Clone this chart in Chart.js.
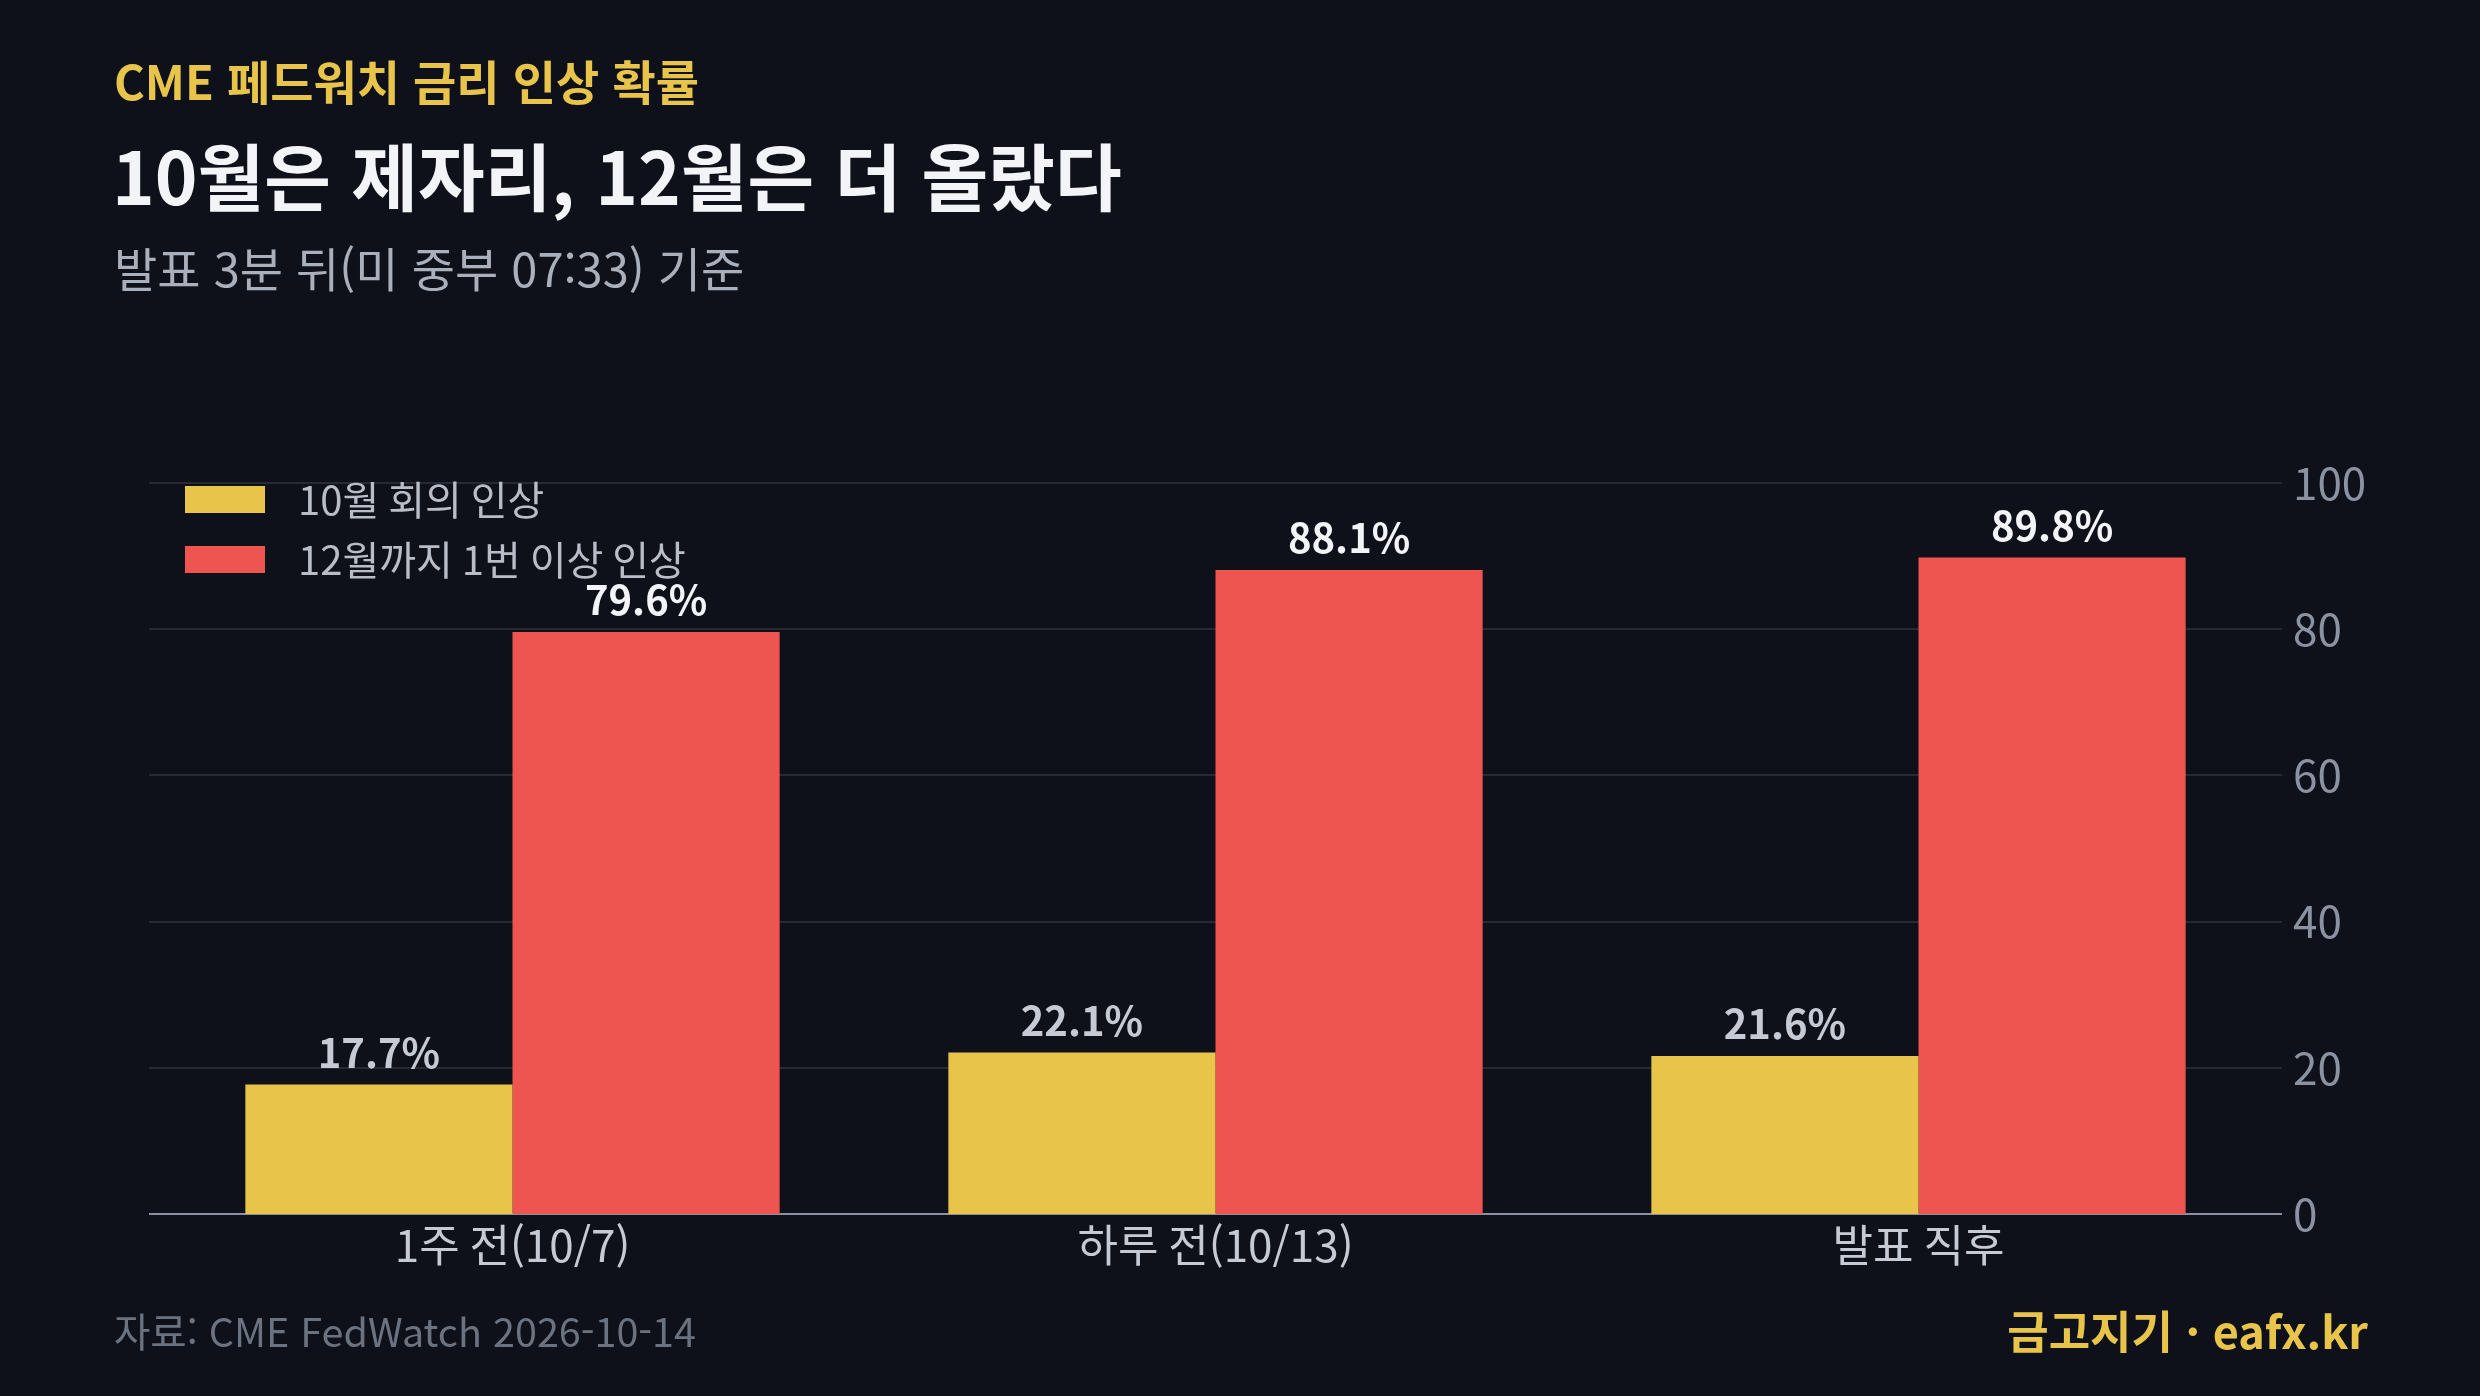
<!DOCTYPE html>
<html lang="ko">
<head>
<meta charset="utf-8">
<script src="https://cdn.jsdelivr.net/npm/chart.js@4/dist/chart.umd.min.js"></script>
<style>
  html, body { margin: 0; padding: 0; background: #0e1119; }
  #wrap { position: relative; width: 2480px; height: 1396px; overflow: hidden; font-family: "Noto Sans CJK KR", "Noto Sans", sans-serif; }
  #wrap canvas { position: absolute; left: 0; top: 0; }
  .txt { position: absolute; line-height: 1; white-space: nowrap; }
  #kicker { left: 114px; top: 56px; font-size: 47px; font-weight: 700; color: #e8c54a; }
  #title { left: 112px; top: 138px; font-size: 72.5px; font-weight: 700; color: #f3f4f7; }
  #sub { left: 114px; top: 243px; font-size: 47px; color: #a9afbb; }
  #source { left: 114px; top: 1310px; font-size: 39.5px; color: #6b7280; }
  #brand { right: 112px; top: 1307px; font-size: 45px; font-weight: 700; color: #e8c54a; }
</style>
</head>
<body>
<div id="wrap">
  <canvas id="chart" width="2480" height="1396"></canvas>
  <div class="txt" id="kicker">CME 페드워치 금리 인상 확률</div>
  <div class="txt" id="title">10월은 제자리, 12월은 더 올랐다</div>
  <div class="txt" id="sub">발표 3분 뒤(미 중부 07:33) 기준</div>
  <div class="txt" id="source">자료: CME FedWatch 2026-10-14</div>
  <div class="txt" id="brand">금고지기 · eafx.kr</div>
</div>
<script>
const categories = ['1주 전(10/7)', '하루 전(10/13)', '발표 직후']
const octHike = [17.7, 22.1, 21.6]
const decHike = [79.6, 88.1, 89.8]
const seriesNames = ['10월 회의 인상', '12월까지 1번 이상 인상']
const yTicks = [0, 20, 40, 60, 80, 100]

const FONT = '"Noto Sans CJK KR", "Noto Sans", sans-serif'
const YELLOW = '#e8c54a'
const RED = '#ef5550'
const GRID_OVERHANG = 12

// horizontal grid lines, a little wider than the bar area
const wideGrid = {
  id: 'wideGrid',
  beforeDatasetsDraw(chart) {
    const ctx = chart.ctx
    const area = chart.chartArea
    const y = chart.scales.y
    ctx.save()
    ctx.lineWidth = 2
    y.ticks.forEach(t => {
      const py = Math.round(y.getPixelForValue(t.value))
      ctx.strokeStyle = t.value === 0 ? '#8a90a0' : '#262a35'
      ctx.beginPath()
      ctx.moveTo(area.left - GRID_OVERHANG, py)
      ctx.lineTo(area.right + GRID_OVERHANG, py)
      ctx.stroke()
    })
    ctx.restore()
  }
}

// value labels above each bar
const valueLabels = {
  id: 'valueLabels',
  afterDatasetsDraw(chart) {
    const ctx = chart.ctx
    ctx.save()
    ctx.font = `700 40px ${FONT}`
    ctx.textAlign = 'center'
    ctx.textBaseline = 'bottom'
    chart.data.datasets.forEach((ds, i) => {
      const meta = chart.getDatasetMeta(i)
      ctx.fillStyle = i === 0 ? '#c5cad5' : '#f3f4f7'
      meta.data.forEach((bar, j) => {
        ctx.fillText(ds.data[j].toFixed(1) + '%', bar.x, bar.y - 12)
      })
    })
    ctx.restore()
  }
}

// legend drawn inside the plot, top-left
const insideLegend = {
  id: 'insideLegend',
  afterDraw(chart) {
    const ctx = chart.ctx
    const area = chart.chartArea
    ctx.save()
    ctx.font = `400 40px ${FONT}`
    ctx.textBaseline = 'middle'
    ctx.textAlign = 'left'
    chart.data.datasets.forEach((ds, i) => {
      const x = area.left - GRID_OVERHANG + 36
      const y = area.top + 3 + i * 60
      ctx.fillStyle = ds.backgroundColor
      ctx.fillRect(x, y, 80, 27)
      ctx.fillStyle = '#b8bdc8'
      ctx.fillText(ds.label, x + 113, y + 14)
    })
    ctx.restore()
  }
}

new Chart(document.getElementById('chart'), {
  type: 'bar',
  data: {
    labels: categories,
    datasets: [
      { label: seriesNames[0], data: octHike, backgroundColor: YELLOW },
      { label: seriesNames[1], data: decHike, backgroundColor: RED }
    ]
  },
  options: {
    responsive: false,
    animation: false,
    layout: { padding: { left: 161, top: 483, right: 0, bottom: 0 } },
    datasets: { bar: { categoryPercentage: 0.76, barPercentage: 1.0 } },
    plugins: { legend: { display: false }, tooltip: { enabled: false } },
    scales: {
      x: {
        grid: { display: false },
        border: { display: false },
        ticks: { color: '#c5cad5', font: { family: FONT, size: 44 }, padding: -3 },
        afterFit(scale) { scale.height = 1396 - 1214 }
      },
      y: {
        position: 'right',
        min: 0,
        max: 100,
        afterBuildTicks(scale) { scale.ticks = yTicks.map(v => ({ value: v })) },
        grid: { display: false, drawTicks: false },
        border: { display: false },
        ticks: { color: '#8b93a3', font: { family: FONT, size: 44 }, padding: 23 },
        afterFit(scale) { scale.width = 2480 - 2270 }
      }
    }
  },
  plugins: [wideGrid, valueLabels, insideLegend]
})
</script>
</body>
</html>
